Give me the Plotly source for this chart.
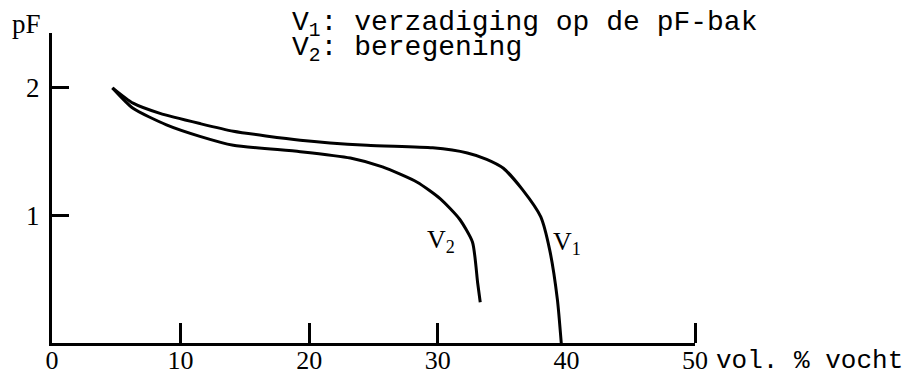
import plotly.graph_objects as go

# pF curves: volume % moisture vs pF
v1_vocht = [4.7, 6.3, 8.4, 11.5, 14.1, 19.3, 24.5, 29.6, 32.3, 33.8, 35.1, 36.6, 38.0, 38.7, 39.3, 39.6]
v1_pf = [2.00, 1.88, 1.80, 1.72, 1.66, 1.59, 1.55, 1.53, 1.49, 1.44, 1.37, 1.20, 0.99, 0.73, 0.34, 0.0]

v2_vocht = [4.7, 6.3, 8.9, 11.5, 14.1, 19.3, 23.2, 25.7, 28.4, 30.2, 31.7, 32.7, 33.1, 33.3]
v2_pf = [2.00, 1.84, 1.71, 1.62, 1.55, 1.50, 1.45, 1.38, 1.26, 1.13, 0.97, 0.79, 0.47, 0.32]

x_ticks = [0, 10, 20, 30, 40, 50]
x_tick_marks = [10, 20, 30, 50]
y_ticks = [1, 2]

W, H = 915, 375
L, R, T, B = 52, 220, 33, 31.5

serif = "Liberation Serif"
mono = "Liberation Mono"

fig = go.Figure()
line_style = dict(color="black", width=3, shape="spline", smoothing=0.6)
fig.add_trace(go.Scatter(x=v1_vocht, y=v1_pf, mode="lines", line=line_style,
                         hoverinfo="skip", showlegend=False))
fig.add_trace(go.Scatter(x=v2_vocht, y=v2_pf, mode="lines", line=line_style,
                         hoverinfo="skip", showlegend=False))

fig.update_layout(
    template="none",
    width=W, height=H,
    margin=dict(l=L, r=R, t=T, b=B, pad=0, autoexpand=False),
    paper_bgcolor="white", plot_bgcolor="white",
    showlegend=False,
    xaxis=dict(
        range=[0, 50], showgrid=False, zeroline=False, automargin=False,
        showline=True, linecolor="black", linewidth=3,
        tickvals=x_ticks, ticktext=[str(v) for v in x_ticks],
        ticks="", ticklabelstandoff=-8,
        tickfont=dict(family=serif, size=26, color="black"),
        minor=dict(tickvals=x_tick_marks, ticks="inside", ticklen=20,
                   tickwidth=2.5, tickcolor="black"),
    ),
    yaxis=dict(
        range=[0, 2.43], showgrid=False, zeroline=False, automargin=False,
        showline=True, linecolor="black", linewidth=3,
        tickvals=y_ticks, ticktext=[str(v) for v in y_ticks],
        ticks="inside", ticklen=17, tickwidth=2.5, tickcolor="black",
        ticklabelstandoff=4,
        tickfont=dict(family=serif, size=27, color="black"),
    ),
)

def px_to_paper(px, py):
    return (px - L) / (W - L - R), (H - B - py) / (H - T - B)

annotations = []
# axis titles
x, y = px_to_paper(10, 24)
annotations.append(dict(text="pF", x=x, y=y, xanchor="left",
                        font=dict(family=serif, size=27)))
x, y = px_to_paper(714, 362)
annotations.append(dict(text="vol. % vocht", x=x, y=y, xanchor="left",
                        font=dict(family=mono, size=26)))
# key
x, y = px_to_paper(290, 24)
annotations.append(dict(text="V<sub>1</sub>: verzadiging op de pF-bak", x=x, y=y,
                        xanchor="left", font=dict(family=mono, size=28)))
x, y = px_to_paper(290, 50)
annotations.append(dict(text="V<sub>2</sub>: beregening", x=x, y=y,
                        xanchor="left", font=dict(family=mono, size=28)))
# curve labels
annotations.append(dict(text="V<sub>2</sub>", x=29.0, y=0.80, xref="x", yref="y",
                        xanchor="left", font=dict(family=serif, size=26)))
annotations.append(dict(text="V<sub>1</sub>", x=38.8, y=0.78, xref="x", yref="y",
                        xanchor="left", font=dict(family=serif, size=26)))

for a in annotations:
    a.setdefault("xref", "paper")
    a.setdefault("yref", "paper")
    a.setdefault("yanchor", "middle")
    a["showarrow"] = False
    a["font"]["color"] = "black"

fig.update_layout(annotations=annotations)
fig.write_html("out.html")
